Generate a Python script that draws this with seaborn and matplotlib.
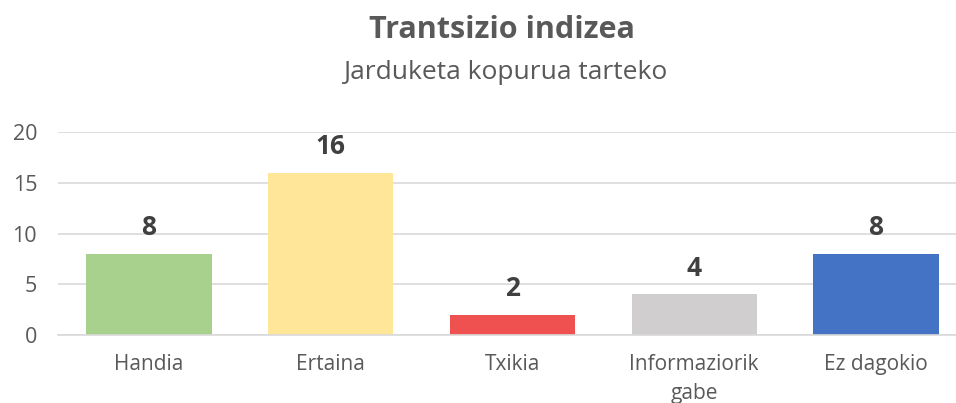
import numpy as np
import pandas as pd
import matplotlib
matplotlib.use("Agg")
import matplotlib.pyplot as plt
import seaborn as sns

# datuak
kategoriak = ["Handia", "Ertaina", "Txikia", "Informaziorik\ngabe", "Ez dagokio"]
balioak = [8, 16, 2, 4, 8]
koloreak = ["#A9D18E", "#FFE699", "#EF5150", "#D0CECE", "#4472C4"]

df = pd.DataFrame({"kat": kategoriak, "n": balioak})

sns.set_theme(style="white")
plt.rcParams["font.family"] = ["Open Sans", "DejaVu Sans"]

fig = plt.figure(figsize=(9.56, 4.03), dpi=100)
ax = fig.add_axes([58/956, 68/403, 1 - 58/956, (335-132)/403])

sns.barplot(data=df, x="kat", y="n", hue="kat", palette=koloreak,
            width=0.69, legend=False, saturation=1, linewidth=0, ax=ax)

ax.set_yticks([0, 5, 10, 15, 20])
ax.set_xticks(np.arange(-0.5, 5, 1), minor=True)
ax.set_ylim(0, 20)
ax.set_xlim(-0.5, 4.44)
ax.yaxis.grid(True, color="#D9D9D9", lw=1.2)
ax.set_axisbelow(True)
for s in ["top", "right", "left"]:
    ax.spines[s].set_visible(False)
ax.spines["bottom"].set_color("#D9D9D9")
ax.spines["bottom"].set_linewidth(1.2)

ax.tick_params(axis="x", which="minor", length=6, color="#D9D9D9", width=1.2)
ax.tick_params(axis="x", which="major", length=0, pad=14, labelsize=15, labelcolor="#595959")
ax.tick_params(axis="y", length=0, pad=15, labelsize=15.5, labelcolor="#595959")
for t in ax.get_xticklabels():
    t.set_linespacing(1.45)
ax.set_xlabel("")
ax.set_ylabel("")

for i, v in enumerate(balioak):
    ax.text(i, v + 1.85, str(v), ha="center", va="baseline", fontsize=19,
            fontweight="bold", color="#404040")

fig.text(502/956, 1 - 38/403, "Trantsizio indizea", ha="center", va="baseline",
         fontsize=22, fontweight="bold", color="#595959")
fig.text(505/956, 1 - 79/403, "Jarduketa kopurua tarteko", ha="center", va="baseline",
         fontsize=19, color="#595959")

fig.savefig("out.png", dpi=100)
